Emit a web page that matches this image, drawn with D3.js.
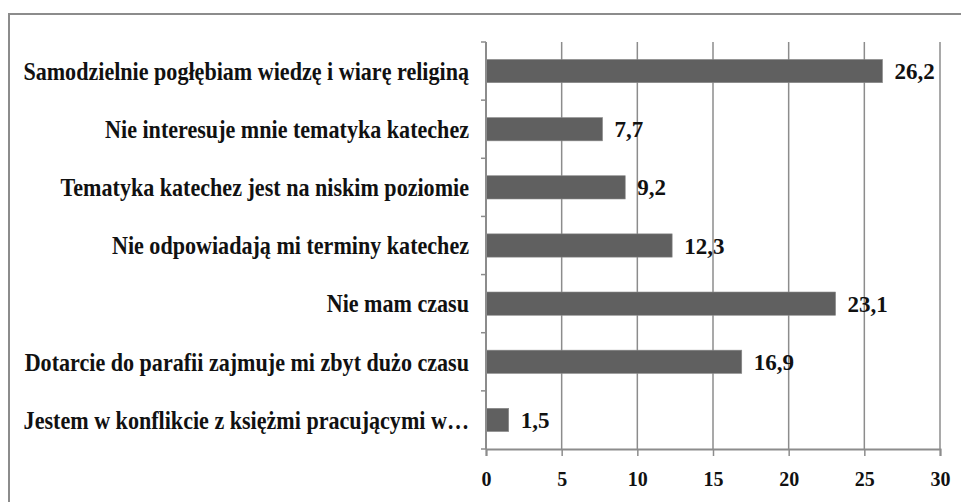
<!DOCTYPE html>
<html>
<head>
<meta charset="utf-8">
<script src="https://cdn.jsdelivr.net/npm/d3@7"></script>
<style>
  html, body { margin: 0; background: #fff; overflow: hidden; }
  svg { display: block; }
</style>
</head>
<body>
<script>
// categories top to bottom
var categories = [
  "Samodzielnie pogłębiam wiedzę i wiarę religiną",
  "Nie interesuje mnie tematyka katechez",
  "Tematyka katechez jest na niskim poziomie",
  "Nie odpowiadają mi terminy katechez",
  "Nie mam czasu",
  "Dotarcie do parafii zajmuje mi zbyt dużo czasu",
  "Jestem w konflikcie z księżmi pracującymi w…"
]
var values = [26.2, 7.7, 9.2, 12.3, 23.1, 16.9, 1.5]
var xTicks = [0, 5, 10, 15, 20, 25, 30]

var W = 961, H = 502
var plotL = 486, plotR = 940, plotT = 42, plotB = 449
var serif = "'Liberation Serif'"

var svg = d3.select("body").append("svg")
    .attr("width", W).attr("height", H)

// outer frame (runs off the right and bottom edge)
svg.append("path")
    .attr("d", "M9," + (H + 5) + "V14H" + (W + 5))
    .attr("fill", "none")
    .attr("stroke", "#8c8c8c")
    .attr("stroke-width", 2)

var x = d3.scaleLinear().domain([0, 30]).range([plotL, plotR])
var y = d3.scaleBand().domain(categories).range([plotT, plotB]).paddingInner(0.6).paddingOuter(0.3)

// gridlines
svg.append("g").selectAll("line")
    .data(xTicks.slice(1))
    .join("line")
    .attr("x1", d => x(d)).attr("x2", d => x(d))
    .attr("y1", plotT).attr("y2", plotB)
    .attr("stroke", "#8c8c8c").attr("stroke-width", 1.5)

// bars
svg.append("g").selectAll("rect")
    .data(values)
    .join("rect")
    .attr("x", x(0))
    .attr("y", (d, i) => y(categories[i]))
    .attr("width", d => x(d) - x(0))
    .attr("height", y.bandwidth())
    .attr("fill", "#606060")
    .attr("stroke", "#8a8a8a").attr("stroke-width", 0.6)

// x axis
var xAxis = d3.axisBottom(x).tickValues(xTicks).tickSize(7).tickPadding(16)
var gx = svg.append("g").attr("transform", "translate(0," + plotB + ")").call(xAxis)
gx.select(".domain").attr("stroke", "#8c8c8c").attr("stroke-width", 2)
gx.selectAll(".tick line").attr("stroke", "#8c8c8c").attr("stroke-width", 1.5)
gx.selectAll(".tick text").attr("fill", "#111")
    .style("font-family", serif).style("font-weight", "bold").style("font-size", "20px")

// y axis line with boundary ticks
var bounds = d3.range(categories.length + 1).map(i => plotT + i * (plotB - plotT) / categories.length)
svg.append("line")
    .attr("x1", plotL).attr("x2", plotL).attr("y1", plotT).attr("y2", plotB)
    .attr("stroke", "#8c8c8c").attr("stroke-width", 2)
svg.append("g").selectAll("line")
    .data(bounds)
    .join("line")
    .attr("x1", plotL - 5).attr("x2", plotL)
    .attr("y1", d => d).attr("y2", d => d)
    .attr("stroke", "#8c8c8c").attr("stroke-width", 1.5)

// category labels (condensed like the original)
var labels = svg.append("g").selectAll("text")
    .data(categories)
    .join("text")
    .attr("text-anchor", "end")
    .attr("dy", "0.35em")
    .attr("fill", "#111")
    .style("font-family", serif).style("font-weight", "bold").style("font-size", "25px")
    .text(d => d)
var sx = 446 / labels.node().getComputedTextLength()
labels.attr("transform", d => "translate(469," + (y(d) + y.bandwidth() / 2) + ") scale(" + sx + ",1)")

// value labels
svg.append("g").selectAll("text")
    .data(values)
    .join("text")
    .attr("x", d => x(d) + 12)
    .attr("y", (d, i) => y(categories[i]) + y.bandwidth() / 2)
    .attr("dy", "0.35em")
    .attr("fill", "#111")
    .style("font-family", serif).style("font-weight", "bold").style("font-size", "23px")
    .text(d => d.toFixed(1).replace(".", ","))
</script>
</body>
</html>
